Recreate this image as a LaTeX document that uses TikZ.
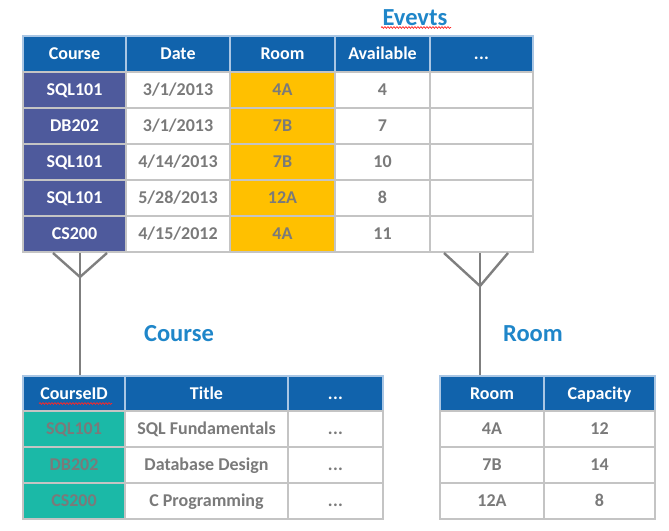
\documentclass[tikz,border=0pt]{standalone}
\usepackage{fontspec}
\setmainfont{Carlito}
\usetikzlibrary{decorations.pathmorphing}
\definecolor{hdrblue}{HTML}{1163AC}
\definecolor{purp}{HTML}{4E5A9C}
\definecolor{amber}{HTML}{FFC000}
\definecolor{teal2}{HTML}{1BB9A7}
\definecolor{ttlblue}{HTML}{1F86C9}
\definecolor{txtgrey}{HTML}{7A7A7A}
\definecolor{cellline}{HTML}{C4C4C4}
\definecolor{hdrline}{HTML}{A9C6E4}
\definecolor{conn}{HTML}{7F7F7F}
\tikzset{
  cell/.style={draw=cellline, line width=1.3pt, fill=white, inner sep=0pt, outer sep=0pt,
    font=\bfseries\fontsize{18}{18}\selectfont, text=txtgrey,
    text height=11.5pt, text depth=0pt},
  hdr/.style={cell, fill=hdrblue, draw=hdrline, text=white},
  purpcell/.style={cell, fill=purp, text=white},
  ambcell/.style={cell, fill=amber},
  tealcell/.style={cell, fill=teal2, text=txtgrey},
  ttl/.style={font=\bfseries\fontsize{24.5}{24.5}\selectfont, text=ttlblue, inner sep=0pt},
  link/.style={draw=conn, line width=2.4pt},
  squig/.style={draw=red!85, line width=0.7pt, decorate,
    decoration={snake, segment length=3pt, amplitude=0.9pt}}
}
\newcommand\mycell[7]{%
  \node[#6, minimum width={#3pt-#2pt}, minimum height={#5pt-#4pt}]
    (#1) at ({(#2+#3)/2},{(#4+#5)/2}) {#7};}
\newcommand\dotsx{.\kern0.3pt.\kern0.3pt.}
\begin{document}
\begin{tikzpicture}[x=1pt,y=-1pt]
\useasboundingbox (0,0) rectangle (669,530);
% ---------- Events table ----------
\mycell{ev-0-1}{23}{126}{36}{72}{hdr}{Course}
\mycell{ev-0-2}{126}{230}{36}{72}{hdr}{Date}
\mycell{ev-0-3}{230}{335}{36}{72}{hdr}{Room}
\mycell{ev-0-4}{335}{430}{36}{72}{hdr}{Available}
\mycell{ev-0-5}{430}{533}{36}{72}{hdr}{\dotsx}
\foreach \r/\ya/\yb/\c/\d/\m/\a in {
  1/72/108/SQL101/3\slash1\slash2013/4A/4,
  2/108/144/DB202/3\slash1\slash2013/7B/7,
  3/144/180/SQL101/4\slash14\slash2013/7B/10,
  4/180/216/SQL101/5\slash28\slash2013/12A/8,
  5/216/252/CS200/4\slash15\slash2012/4A/11}{
  \mycell{ev-\r-1}{23}{126}{\ya}{\yb}{purpcell}{\c}
  \mycell{ev-\r-2}{126}{230}{\ya}{\yb}{cell}{\d}
  \mycell{ev-\r-3}{230}{335}{\ya}{\yb}{ambcell}{\m}
  \mycell{ev-\r-4}{335}{430}{\ya}{\yb}{cell}{\a}
  \mycell{ev-\r-5}{430}{533}{\ya}{\yb}{cell}{}
}
\node[ttl] (evt) at (415,18) {Evevts};
\draw[squig] (381,27.5) -- (451,27.5);
% ---------- Course table ----------
\mycell{co-0-1}{23}{125}{376}{411}{hdr}{CourseID}
\mycell{co-0-2}{125}{288}{376}{411}{hdr}{Title}
\mycell{co-0-3}{288}{383}{376}{411}{hdr}{\dotsx}
\draw[squig] (39,403.5) -- (112,403.5);
\foreach \r/\ya/\yb/\c/\t in {
  1/411/447/SQL101/SQL Fundamentals,
  2/447/483/DB202/Database Design,
  3/483/519/CS200/C Programming}{
  \mycell{co-\r-1}{23}{125}{\ya}{\yb}{tealcell}{\c}
  \mycell{co-\r-2}{125}{288}{\ya}{\yb}{cell}{\t}
  \mycell{co-\r-3}{288}{383}{\ya}{\yb}{cell}{\dotsx}
}
\node[ttl] (cot) at (179,334) {Course};
% ---------- Room table ----------
\mycell{ro-0-1}{440}{544}{376}{411}{hdr}{Room}
\mycell{ro-0-2}{544}{655}{376}{411}{hdr}{Capacity}
\foreach \r/\ya/\yb/\m/\k in {
  1/411/447/4A/12,
  2/447/483/7B/14,
  3/483/519/12A/8}{
  \mycell{ro-\r-1}{440}{544}{\ya}{\yb}{cell}{\m}
  \mycell{ro-\r-2}{544}{655}{\ya}{\yb}{cell}{\k}
}
\node[ttl] (rot) at (533,334) {Room};
% ---------- connectors (crow's feet) ----------
\coordinate (lcA) at (53,253);
\coordinate (lcB) at (107,253);
\coordinate (lcM) at (80,253);
\coordinate (lcX) at (80,277);
\coordinate (lcE) at (80,375);
\draw[link] (lcA) -- (lcX) -- (lcB);
\draw[link] (lcM) -- (lcE);
\coordinate (rcA) at (444,253);
\coordinate (rcB) at (508,253);
\coordinate (rcM) at (480,253);
\coordinate (rcX) at (480,286);
\coordinate (rcE) at (480,375);
\draw[link] (rcA) -- (rcX) -- (rcB);
\draw[link] (rcM) -- (rcE);
\end{tikzpicture}
\end{document}
